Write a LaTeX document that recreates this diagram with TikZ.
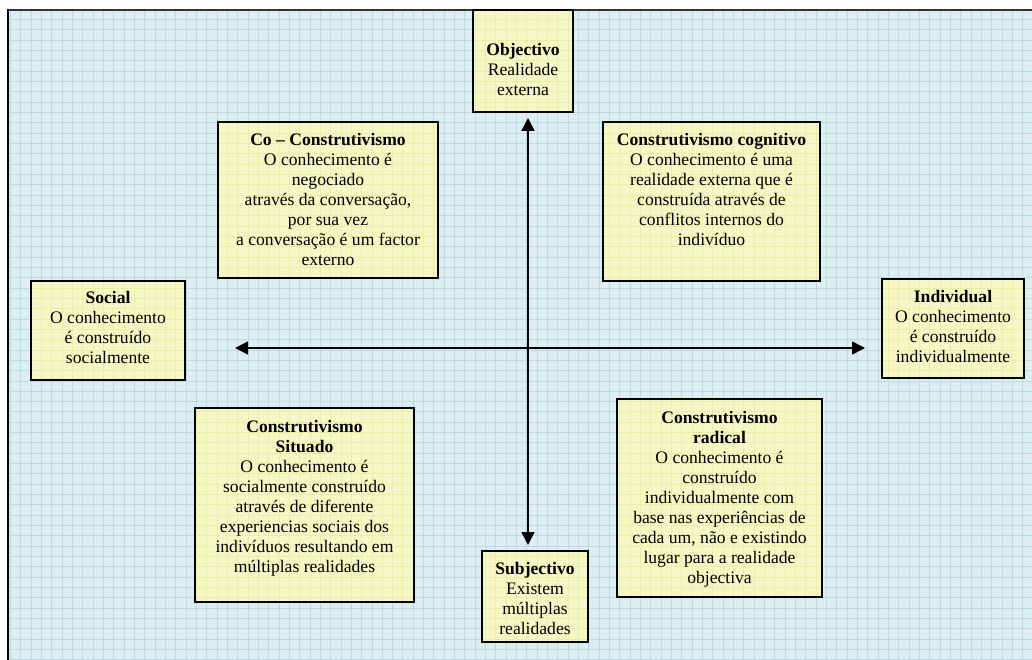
\documentclass[tikz,border=0pt]{standalone}
\usepackage{fontspec}
\setmainfont{Liberation Serif}
\usetikzlibrary{arrows.meta}
\definecolor{bgcol}{HTML}{DDEEF2}
\definecolor{gridcol}{HTML}{BADCE1}
\definecolor{boxfill}{HTML}{F5F8C6}
\definecolor{boxgrid}{HTML}{EBEFA2}
\tikzset{
  qbox/.style={fill=boxfill, inner sep=0pt, outer sep=0pt, anchor=north west},
  qborder/.style={draw=black, line width=1.8pt},
  qtext/.style={anchor=north, align=center, inner sep=0pt, font=\fontsize{17.6}{20}\selectfont},
  arr/.style={line width=1.5pt, {Triangle[length=13pt,width=13pt]}-{Triangle[length=13pt,width=13pt]}}
}
\begin{document}
\begin{tikzpicture}[x=1pt,y=-1pt]
\useasboundingbox (0,0) rectangle (1032,660);
\fill[white] (0,0) rectangle (1032,660);
\fill[bgcol] (8,10) rectangle (1032,660);
\begin{scope}
\clip (8,10) rectangle (1032,660);
\foreach \i in {0,...,99} \draw[gridcol, line width=0.7pt] (10.3+10.33*\i,0) -- (10.3+10.33*\i,660);
\foreach \j in {0,...,62} \draw[gridcol, line width=0.7pt] (0,19.3+10.33*\j) -- (1032,19.3+10.33*\j);
\end{scope}
\draw[black!80, line width=1.6pt] (8,10) -- (1032,10);
\draw[black, line width=2pt] (8,9.2) -- (8,660);

% boxes
\node[qbox, minimum width=100pt, minimum height=102pt] (obj) at (473,10) {};
\node[qbox, minimum width=220pt, minimum height=156pt] (co) at (218,122) {};
\node[qbox, minimum width=217pt, minimum height=159pt] (cog) at (603,122) {};
\node[qbox, minimum width=154pt, minimum height=99pt] (soc) at (31,281) {};
\node[qbox, minimum width=142pt, minimum height=99pt] (ind) at (882,279) {};
\node[qbox, minimum width=219pt, minimum height=194pt] (sit) at (195,408) {};
\node[qbox, minimum width=205pt, minimum height=198pt] (rad) at (617,399) {};
\node[qbox, minimum width=106pt, minimum height=91pt] (sub) at (482,551) {};

% faint grid inside the boxes
\begin{scope}
\clip (obj.north west) rectangle (obj.south east)
      (co.north west) rectangle (co.south east)
      (cog.north west) rectangle (cog.south east)
      (soc.north west) rectangle (soc.south east)
      (ind.north west) rectangle (ind.south east)
      (sit.north west) rectangle (sit.south east)
      (rad.north west) rectangle (rad.south east)
      (sub.north west) rectangle (sub.south east);
\foreach \i in {0,...,99} \draw[boxgrid, line width=0.7pt] (10.3+10.33*\i,0) -- (10.3+10.33*\i,660);
\foreach \j in {0,...,62} \draw[boxgrid, line width=0.7pt] (0,19.3+10.33*\j) -- (1032,19.3+10.33*\j);
\end{scope}
\foreach \n in {obj,co,cog,soc,ind,sit,rad,sub}
  \draw[qborder] (\n.north west) rectangle (\n.south east);

% texts
\node[qtext] (objT) at (523,43) {\textbf{Objectivo}\\Realidade\\externa};
\node[qtext] (coT) at (328,133) {\textbf{Co -- Construtivismo}\\O conhecimento é\\negociado\\ através da conversação,\\por sua vez\\a conversação é um factor\\externo};
\node[qtext] (cogT) at (711.5,133) {\textbf{Construtivismo cognitivo}\\O conhecimento é uma\\realidade externa que é\\construída através de\\conflitos internos do\\indivíduo};
\node[qtext] (socT) at (108,291) {\textbf{Social}\\O conhecimento\\é construído\\socialmente};
\node[qtext] (indT) at (953,290) {\textbf{Individual}\\O conhecimento\\é construído\\individualmente};
\node[qtext] (sitT) at (304.5,420) {\textbf{Construtivismo}\\\textbf{Situado}\\O conhecimento é\\socialmente construído\\através de diferente\\experiencias sociais dos\\indivíduos resultando em\\múltiplas realidades};
\node[qtext] (radT) at (719.5,411) {\textbf{Construtivismo}\\\textbf{radical}\\O conhecimento é\\construído\\individualmente com\\base nas experiências de\\cada um, não e existindo\\lugar para a realidade\\objectiva};
\node[qtext] (subT) at (535,562) {\textbf{Subjectivo}\\Existem\\múltiplas\\realidades};

% axes
\coordinate (vt) at (528,118);
\coordinate (vb) at (528,545);
\coordinate (hl) at (235,348);
\coordinate (hr) at (865,348);
\draw[arr] (vt) -- (vb);
\draw[arr] (hl) -- (hr);
\end{tikzpicture}
\end{document}
